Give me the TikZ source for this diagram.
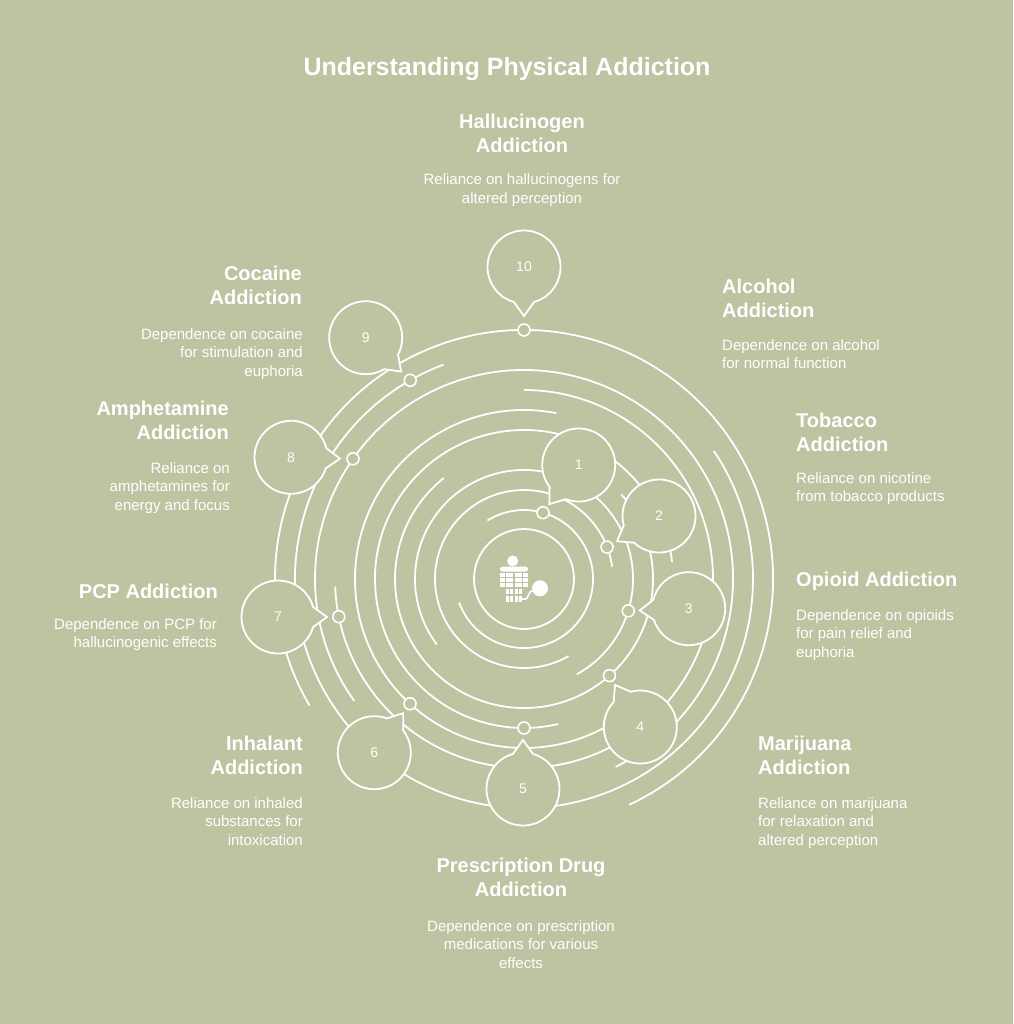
\documentclass[tikz,border=0pt]{standalone}
\usepackage{fontspec}
\setmainfont{Liberation Sans}
\usetikzlibrary{calc}
\definecolor{bg}{RGB}{188,196,162}
\newcommand\mybubble[5]{% name, x, y, tail angle, label
  \coordinate (#1c) at (#2,#3);
  \draw[bub] (#1c) ++({#4+16}:36.5) arc[start angle={#4+16}, end angle={#4+344}, radius=36.5] -- ([shift={({#4}:49)}]#1c) -- cycle;
  \node[num] (#1) at (#1c) {#5};
}
\begin{document}
\begin{tikzpicture}[x=1pt,y=1pt,
  ring/.style={draw=white, line width=1.8pt},
  dotc/.style={circle, draw=white, fill=bg, line width=1.6pt, minimum size=12pt, inner sep=0pt},
  bub/.style={draw=white, fill=bg, line width=1.8pt, line join=miter},
  num/.style={text=white, font=\fontsize{14}{16}\selectfont},
  head/.style={text=white, font=\fontsize{20}{24}\selectfont\bfseries, inner sep=0pt},
  desc/.style={text=white, font=\fontsize{15}{18}\selectfont, inner sep=0pt},
  ttl/.style={text=white, font=\fontsize{25}{30}\selectfont\bfseries, inner sep=0pt},
]
\fill[bg] (0,0) rectangle (1013,-1024);
\useasboundingbox (0,0) rectangle (1013,-1024);
\coordinate (C) at (524,-579);

% rings
\draw[ring] (C) circle[radius=50];
\draw[ring] (C) ++(-160:69) arc[start angle=-160, end angle=122, radius=69];
\draw[ring] (C) ++(8:89) arc[start angle=8, end angle=300, radius=89];
\draw[ring] (C) ++(-61:109) arc[start angle=-61, end angle=217, radius=109];
\draw[ring] (C) ++(128.5:129) arc[start angle=128.5, end angle=401, radius=129];
\draw[ring] (C) ++(6.6:149) arc[start angle=6.6, end angle=283.3, radius=149];
\draw[ring] (C) ++(79:169) arc[start angle=79, end angle=305, radius=169];
\draw[ring] (C) ++(182.3:189) arc[start angle=182.3, end angle=450, radius=189];
\draw[ring] (C) ++(-64:209) arc[start angle=-64, end angle=215.7, radius=209];
\draw[ring] (C) ++(110.6:229) arc[start angle=110.6, end angle=394, radius=229];
\draw[ring] (C) ++(-65:249) arc[start angle=-65, end angle=210.5, radius=249];

% dots
\node[dotc] (d1) at ([shift={(74:69)}]C) {};
\node[dotc] (d2) at ([shift={(21:89)}]C) {};
\node[dotc] (d3) at ([shift={(-17:109)}]C) {};
\node[dotc] (d4) at ([shift={(-48.5:129)}]C) {};
\node[dotc] (d5) at ([shift={(-90:149)}]C) {};
\node[dotc] (d6) at ([shift={(227.6:169)}]C) {};
\node[dotc] (d7) at ([shift={(191.5:189)}]C) {};
\node[dotc] (d8) at ([shift={(144.9:209)}]C) {};
\node[dotc] (d9) at ([shift={(119.8:229)}]C) {};
\node[dotc] (d10) at ([shift={(90:249)}]C) {};

% bubbles
\mybubble{b1}{578.7}{-465}{233.2}{1}
\mybubble{b2}{659}{-516}{211}{2}
\mybubble{b3}{688.7}{-608.7}{182}{3}
\mybubble{b4}{640.3}{-727}{121}{4}
\mybubble{b5}{523}{-789}{90}{5}
\mybubble{b6}{374.3}{-752.7}{53.8}{6}
\mybubble{b7}{278}{-617}{0}{7}
\mybubble{b8}{291}{-457.3}{-1.5}{8}
\mybubble{b9}{365.7}{-337.7}{-43.7}{9}
\mybubble{b10}{524}{-267}{-90}{10}

% centre icon
\fill[white] (512.7,-561) circle[radius=5.5];
\fill[white, rounded corners=2.5pt] (500,-566.7) rectangle (528,-571.7);
\foreach \ya/\yb in {572.9/576.9, 578.1/582.1, 583.3/587.3}{
  \fill[white] (500,-\ya) rectangle (504.6,-\yb);
  \fill[white] (505.8,-\ya) rectangle (513.4,-\yb);
  \fill[white] (514.6,-\ya) rectangle (522.2,-\yb);
  \fill[white] (523.4,-\ya) rectangle (528,-\yb);
}
\foreach \ya/\yb in {588.5/594.3, 595.5/601.5}{
  \fill[white] (505.8,-\ya) rectangle (509.1,-\yb);
  \fill[white] (510.3,-\ya) rectangle (513.4,-\yb);
  \fill[white] (514.6,-\ya) rectangle (517.9,-\yb);
  \fill[white] (519.1,-\ya) rectangle (522.2,-\yb);
}
\draw[white, line width=1.6pt] (522.2,-599) .. controls (531,-601) and (526,-590) .. (534,-591);
\fill[white] (540,-588.3) circle[radius=8];

% title
\node[ttl, anchor=base] (title) at (507,-76) {Understanding Physical Addiction};

% 10 Hallucinogen
\node[head, anchor=base] (h10a) at (522,-129) {Hallucinogen};
\node[head, anchor=base] (h10b) at (522,-153) {Addiction};
\node[desc, anchor=base] (t10a) at (522,-185) {Reliance on hallucinogens for};
\node[desc, anchor=base] (t10b) at (522,-203.5) {altered perception};

% 9 Cocaine
\node[head, anchor=base east] (h9a) at (302,-280) {Cocaine};
\node[head, anchor=base east] (h9b) at (302,-304) {Addiction};
\node[desc, anchor=base east] (t9a) at (303,-339) {Dependence on cocaine};
\node[desc, anchor=base east] (t9b) at (303,-357.5) {for stimulation and};
\node[desc, anchor=base east] (t9c) at (303,-376) {euphoria};

% 1 Alcohol
\node[head, anchor=base west] (h1a) at (722,-293) {Alcohol};
\node[head, anchor=base west] (h1b) at (722,-317) {Addiction};
\node[desc, anchor=base west] (t1a) at (722,-350) {Dependence on alcohol};
\node[desc, anchor=base west] (t1b) at (722,-368.5) {for normal function};

% 2 Tobacco
\node[head, anchor=base west] (h2a) at (796,-427) {Tobacco};
\node[head, anchor=base west] (h2b) at (796,-451) {Addiction};
\node[desc, anchor=base west] (t2a) at (796,-483) {Reliance on nicotine};
\node[desc, anchor=base west] (t2b) at (796,-501.5) {from tobacco products};

% 8 Amphetamine
\node[head, anchor=base east] (h8a) at (229,-415) {Amphetamine};
\node[head, anchor=base east] (h8b) at (229,-439) {Addiction};
\node[desc, anchor=base east] (t8a) at (230,-473) {Reliance on};
\node[desc, anchor=base east] (t8b) at (230,-491.5) {amphetamines for};
\node[desc, anchor=base east] (t8c) at (230,-510) {energy and focus};

% 3 Opioid
\node[head, anchor=base west] (h3a) at (796,-586) {Opioid Addiction};
\node[desc, anchor=base west] (t3a) at (796,-620) {Dependence on opioids};
\node[desc, anchor=base west] (t3b) at (796,-638.5) {for pain relief and};
\node[desc, anchor=base west] (t3c) at (796,-657) {euphoria};

% 7 PCP
\node[head, anchor=base east] (h7a) at (218,-598) {PCP Addiction};
\node[desc, anchor=base east] (t7a) at (217,-629) {Dependence on PCP for};
\node[desc, anchor=base east] (t7b) at (217,-647.5) {hallucinogenic effects};

% 4 Marijuana
\node[head, anchor=base west] (h4a) at (758,-750) {Marijuana};
\node[head, anchor=base west] (h4b) at (758,-774) {Addiction};
\node[desc, anchor=base west] (t4a) at (758,-808) {Reliance on marijuana};
\node[desc, anchor=base west] (t4b) at (758,-826.5) {for relaxation and};
\node[desc, anchor=base west] (t4c) at (758,-845) {altered perception};

% 6 Inhalant
\node[head, anchor=base east] (h6a) at (303,-750) {Inhalant};
\node[head, anchor=base east] (h6b) at (303,-774) {Addiction};
\node[desc, anchor=base east] (t6a) at (303,-808) {Reliance on inhaled};
\node[desc, anchor=base east] (t6b) at (303,-826.5) {substances for};
\node[desc, anchor=base east] (t6c) at (303,-845) {intoxication};

% 5 Prescription
\node[head, anchor=base] (h5a) at (521,-872) {Prescription Drug};
\node[head, anchor=base] (h5b) at (521,-896) {Addiction};
\node[desc, anchor=base] (t5a) at (521,-931) {Dependence on prescription};
\node[desc, anchor=base] (t5b) at (521,-949.5) {medications for various};
\node[desc, anchor=base] (t5c) at (521,-968) {effects};
\end{tikzpicture}
\end{document}
